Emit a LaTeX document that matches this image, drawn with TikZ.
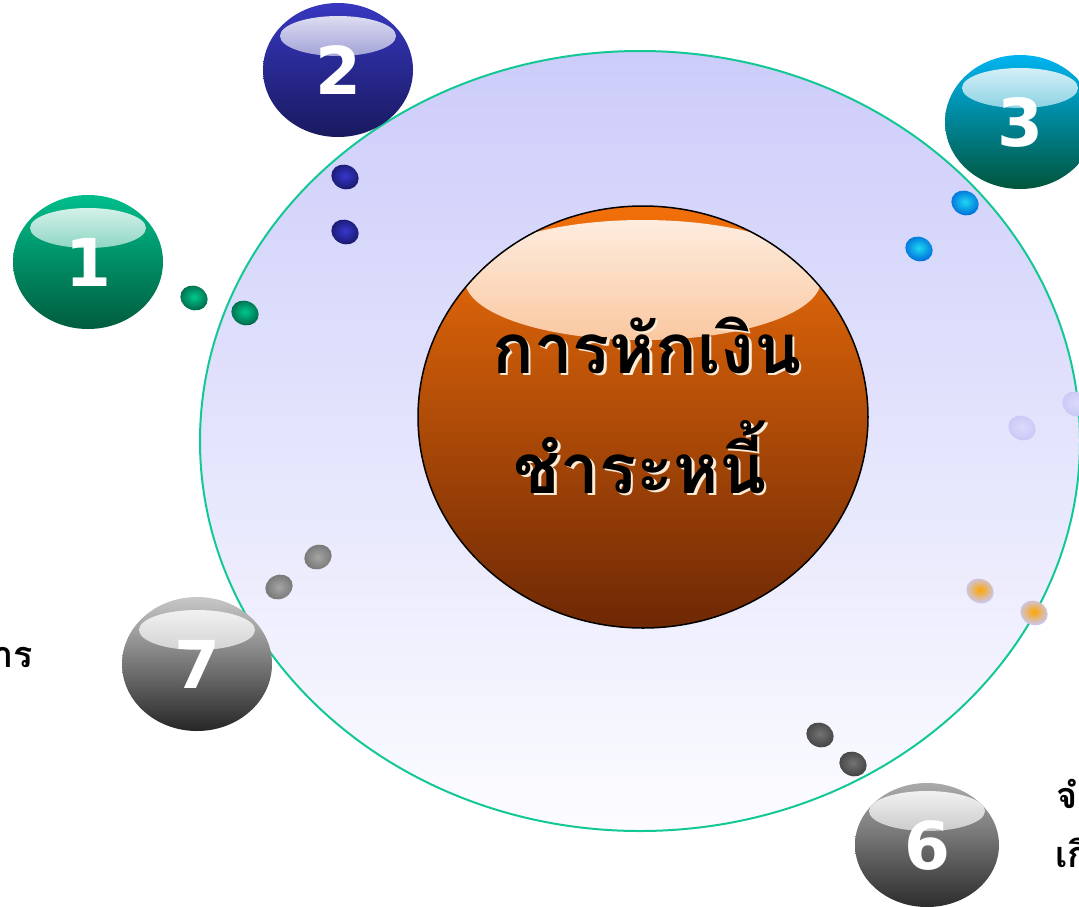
\documentclass[tikz,border=0pt]{standalone}
\usepackage{fontspec}
\usetikzlibrary{shapes.geometric}
\newfontfamily\thaifont[Script=Thai]{Loma}
\newfontfamily\numfont{DejaVu Sans}
\definecolor{ringline}{RGB}{20,200,150}
\definecolor{ringtop}{RGB}{204,204,250}
\definecolor{ringbottom}{RGB}{252,252,255}
\definecolor{coretop}{RGB}{242,112,10}
\definecolor{coremid}{RGB}{210,86,0}
\definecolor{corebottom}{RGB}{110,40,5}
\definecolor{glow}{RGB}{255,236,215}
\definecolor{greentop}{RGB}{0,190,140}
\definecolor{greenbottom}{RGB}{0,92,62}
\definecolor{bluetop}{RGB}{55,55,192}
\definecolor{bluebottom}{RGB}{25,25,95}
\definecolor{cyantop}{RGB}{0,180,240}
\definecolor{tealbottom}{RGB}{0,85,60}
\definecolor{greytop}{RGB}{200,200,200}
\definecolor{greybottom}{RGB}{38,38,38}
\definecolor{darktop}{RGB}{170,170,170}
\definecolor{darkbottom}{RGB}{45,45,45}
\definecolor{lilac}{RGB}{200,200,246}
\definecolor{lilaclight}{RGB}{218,218,252}
\definecolor{spark}{RGB}{255,165,0}
\definecolor{beadgreen}{RGB}{0,200,140}
\definecolor{beadgreendk}{RGB}{0,105,75}
\definecolor{beadblue}{RGB}{55,55,205}
\definecolor{beadbluedk}{RGB}{25,25,110}
\definecolor{beadcyan}{RGB}{30,215,240}
\definecolor{beadcyandk}{RGB}{0,110,220}
\definecolor{beadgrey}{RGB}{165,165,165}
\definecolor{beadgreydk}{RGB}{115,115,115}
\definecolor{beadslate}{RGB}{115,115,115}
\definecolor{beadslatedk}{RGB}{68,68,68}

% black letters with a light relief below right
\newcommand{\embossed}[1]{\leavevmode\rlap{\kern2.5pt\raisebox{-2.5pt}{\textcolor{glow}{#1}}}#1}

\tikzset{
  ball/.style 2 args={ellipse, minimum width=150pt, minimum height=134pt, inner sep=0pt,
    top color=#1, bottom color=#2, text=white,
    font=\numfont\bfseries\fontsize{66}{66}\selectfont,
    path picture={\shade[top color=white!92!#1, bottom color=#1!70!#2]
      ([yshift=34pt]path picture bounding box.center) ellipse [x radius=58pt, y radius=20pt];}},
  bead/.style 2 args={ellipse, minimum width=28pt, minimum height=24pt, inner sep=0pt,
    rotate=-25, inner color=#1, outer color=#2},
  title/.style={font=\thaifont\bfseries\fontsize{69}{80}\selectfont, inner sep=0pt, anchor=base},
  side/.style={font=\thaifont\bfseries\fontsize{36}{40}\selectfont, inner sep=0pt},
}

\begin{document}
\begin{tikzpicture}[x=1pt,y=-1pt]
  \useasboundingbox[fill=white] (0,0) rectangle (1079,906);

  % the large ring and the core
  \node[ellipse, draw=ringline, line width=2pt, minimum width=880pt, minimum height=780pt,
        inner sep=0pt, top color=ringtop, bottom color=ringbottom] (ring) at (640,441) {};
  \node[ellipse, draw=black, line width=1.5pt, minimum width=450pt, minimum height=422pt,
        inner sep=0pt, top color=coretop, middle color=coremid, bottom color=corebottom,
        path picture={\shade[top color=white!90!coretop, middle color=white!55!coretop, bottom color=coretop]
          ([yshift=137pt]path picture bounding box.center) ellipse [x radius=178pt, y radius=60pt];}]
        (core) at (643,417) {};
  \node[title] (title1) at (647,373) {\embossed{การหักเงิน}};
  \node[title] (title2) at (640,493) {\embossed{ชำระหนี้}};

  % beads
  \node[bead={beadgreen}{beadgreendk}] (d1a) at (194,298) {};
  \node[bead={beadgreen}{beadgreendk}] (d1b) at (245,313) {};
  \node[bead={beadblue}{beadbluedk}] (d2a) at (345,177) {};
  \node[bead={beadblue}{beadbluedk}] (d2b) at (345,232) {};
  \node[bead={beadcyan}{beadcyandk}] (d3a) at (965,203) {};
  \node[bead={beadcyan}{beadcyandk}] (d3b) at (919,249) {};
  \node[bead={lilaclight}{lilac}] (d4a) at (1076,404) {};
  \node[bead={lilaclight}{lilac}] (d4b) at (1022,428) {};
  \node[bead={spark}{lilac}] (d5a) at (980,591) {};
  \node[bead={spark}{lilac}] (d5b) at (1034,613) {};
  \node[bead={beadslate}{beadslatedk}] (d6a) at (820,735) {};
  \node[bead={beadslate}{beadslatedk}] (d6b) at (853,764) {};
  \node[bead={beadgrey}{beadgreydk}, rotate=50] (d7a) at (318,557) {};
  \node[bead={beadgrey}{beadgreydk}, rotate=50] (d7b) at (279,587) {};

  % numbered balls
  \node[ball={greentop}{greenbottom}] (b1) at (88,262) {1};
  \node[ball={bluetop}{bluebottom}] (b2) at (338,70) {2};
  \node[ball={cyantop}{tealbottom}] (b3) at (1020,122) {3};
  \node[ball={greytop}{greybottom}] (b7) at (197,664) {7};
  \node[ball={darktop}{darkbottom}, minimum width=144pt, minimum height=124pt] (b6) at (927,845) {6};

  % cut-off side texts
  \node[side, anchor=base east] (left text) at (33,667) {าร};
  \node[side, anchor=base west] (right text1) at (1056,808) {จำ};
  \node[side, anchor=base west] (right text2) at (1055,867) {เกิ};
\end{tikzpicture}
\end{document}
